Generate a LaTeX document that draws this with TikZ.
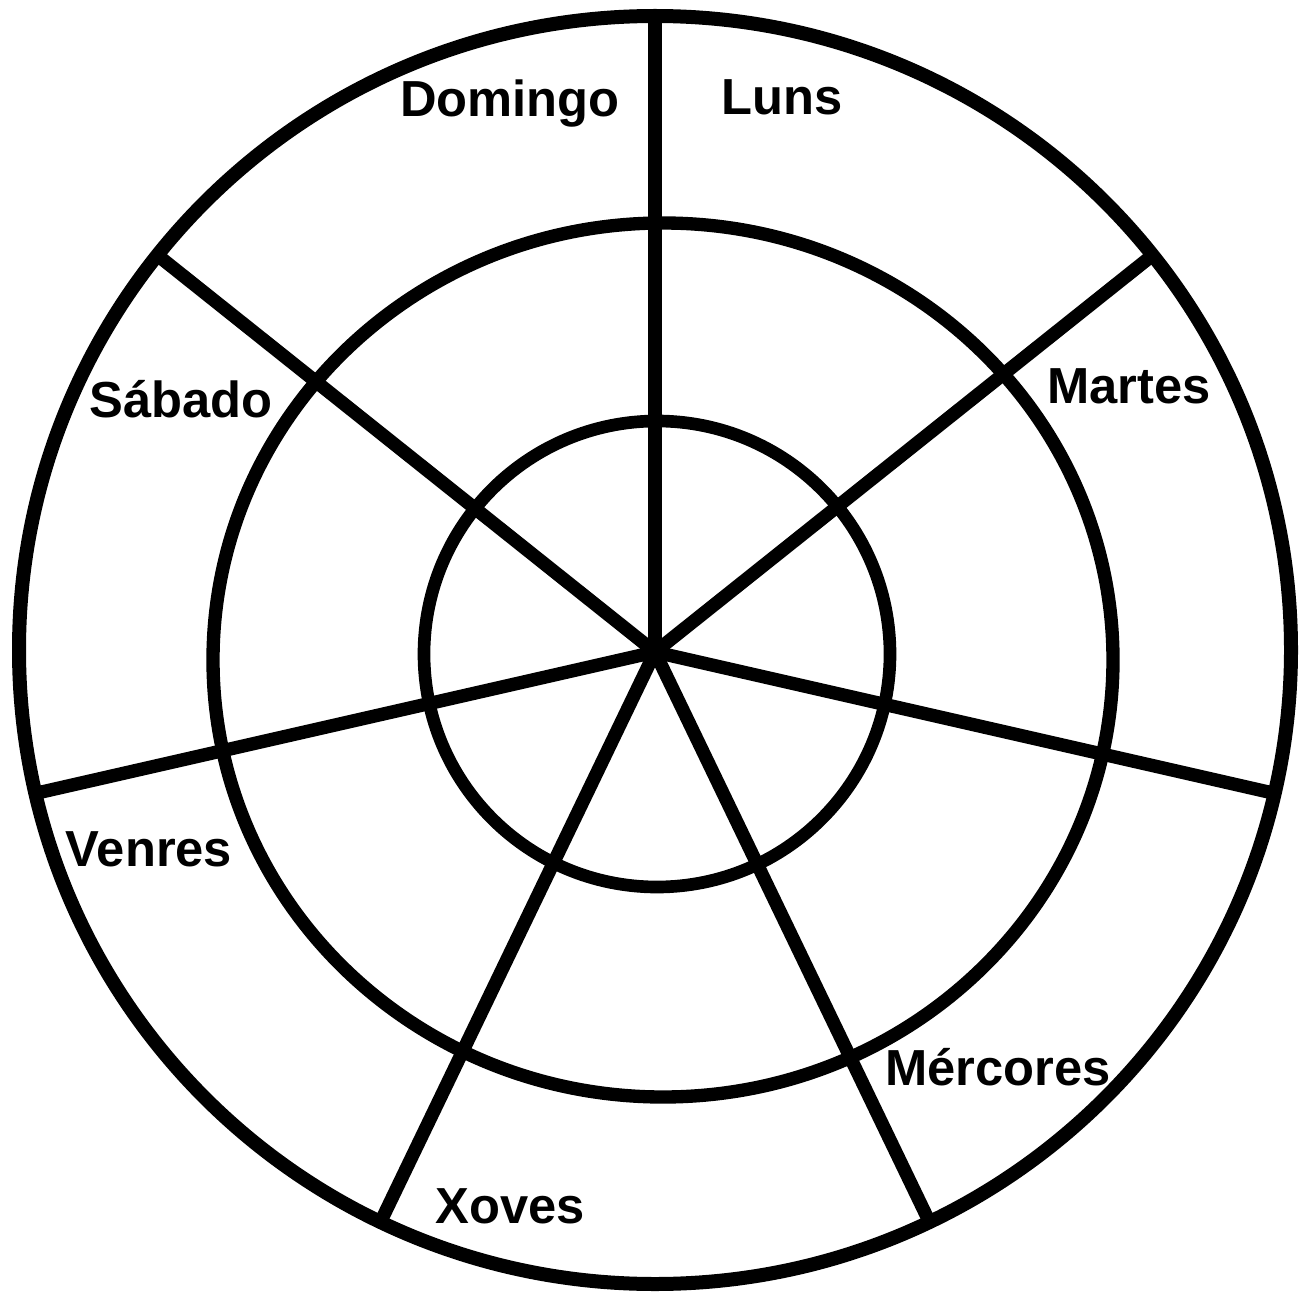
\documentclass[tikz,border=0pt]{standalone}
\usepackage{fontspec}
\setmainfont{Liberation Sans}
\begin{document}
\begin{tikzpicture}[x=0.75pt,y=-0.75pt,
  ring/.style={draw=black,line width=#1},
  spoke/.style={draw=black,line width=10pt},
  day/.style={font=\fontsize{38}{41}\selectfont\bfseries,anchor=base,inner sep=0pt}]
\useasboundingbox[fill=white] (0,0) rectangle (1306,1294);
\coordinate (c) at (655,652);
% spokes
\foreach \k in {0,...,6}{
  \draw[spoke] (c) -- ++({\k*360/7-90}:636);
}
% circles
\draw[ring=10.5pt] (655,650) ellipse [x radius=636, y radius=634];
\draw[ring=10pt] (663,660) ellipse [x radius=450, y radius=437];
\draw[ring=9.5pt] (657,654) ellipse [x radius=233, y radius=233];
% labels
\node[day] (dom) at (510,117) {Domingo};
\node[day] (lun) at (782,115) {Luns};
\node[day] (mar) at (1129,403) {Martes};
\node[day] (sab) at (181,417) {Sábado};
\node[day] (ven) at (149,866) {Venres};
\node[day] (mer) at (998,1085) {Mércores};
\node[day] (xov) at (510,1223) {Xoves};
\end{tikzpicture}
\end{document}
